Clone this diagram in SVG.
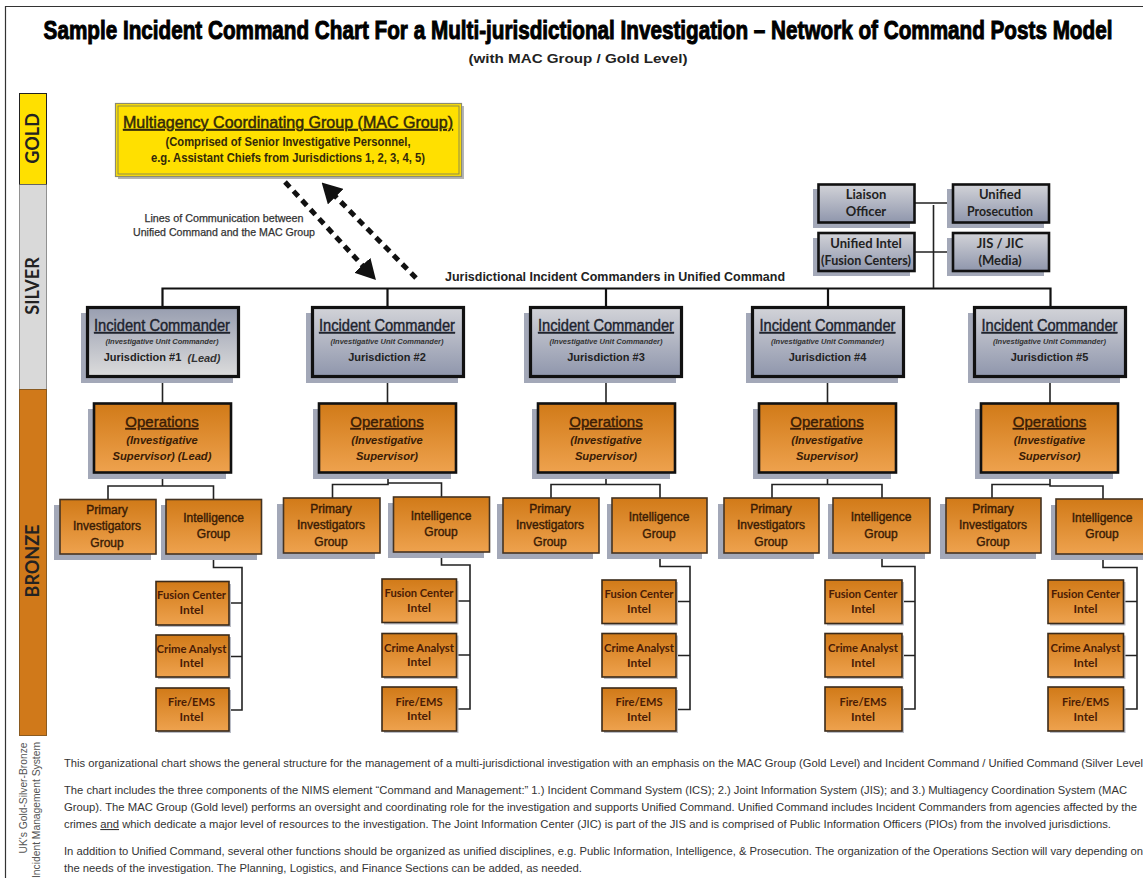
<svg xmlns="http://www.w3.org/2000/svg" width="1143" height="878" viewBox="0 0 1143 878">
<style>
text{font-family:"Liberation Sans",Arial,sans-serif;text-anchor:middle}
.cal{font-family:Lato,"Open Sans",sans-serif;font-weight:700}
.line{fill:none;stroke:#222;stroke-width:1.6}
.top{fill:none;stroke:#111;stroke-width:2.2}
.sh{fill:#a3a8b8}
.ic{fill:url(#gIC);stroke:#111;stroke-width:3.2}
.ic1{fill:url(#gIC1);stroke:#111;stroke-width:3.2}
.sm{fill:url(#gIC);stroke:#111;stroke-width:2.6}
.ops{fill:url(#gOr);stroke:#111;stroke-width:2.6}
.grp{fill:url(#gOr);stroke:#443322;stroke-width:1.6}
.int{fill:url(#gOr);stroke:#3a2a1a;stroke-width:1.6}
.shs{fill:#b9bcc6}
.ict{font-size:16px;fill:#20232e;stroke:#20232e;stroke-width:.4;text-decoration:underline}
.ics{font-size:7.5px;font-style:italic;font-weight:700;fill:#333}
.icj{font-size:11px;font-weight:700;fill:#222}
.opt{font-size:15px;fill:#3a1c05;stroke:#3a1c05;stroke-width:.4;text-decoration:underline}
.ops2{font-size:11.2px;font-style:italic;font-weight:700;fill:#3a1c05}
.gt{font-size:12px;fill:#3a1c05;stroke:#3a1c05;stroke-width:.4}
.it{font-size:12px;fill:#4a1c05}
.st{font-size:13px;fill:#222}
.side{font-size:18px;fill:#222}
.p{font-size:11px;fill:#333;text-anchor:start}
.rot{font-size:11px;fill:#555}
.dash{fill:none;stroke:#111;stroke-width:5;stroke-dasharray:7 5.5}
</style>
<defs>
<linearGradient id="gIC" x1="0" y1="0" x2="0" y2="1"><stop offset="0" stop-color="#d2d3d8"/><stop offset="1" stop-color="#8f96ac"/></linearGradient>
<linearGradient id="gIC1" x1="0" y1="0" x2="0" y2="1"><stop offset="0" stop-color="#989eb0"/><stop offset="1" stop-color="#dcdcdc"/></linearGradient>
<linearGradient id="gOr" x1="0" y1="0" x2="0" y2="1"><stop offset="0" stop-color="#d17a18"/><stop offset="1" stop-color="#eea24e"/></linearGradient>
<marker id="head" viewBox="0 0 20 22" refX="1" refY="11" markerWidth="20" markerHeight="22" markerUnits="userSpaceOnUse" orient="auto"><path d="M0,0 L20,11 L0,22 Z" fill="#111"/></marker>
</defs>
<rect width="1143" height="878" fill="#fff"/>
<path d="M5.5,878 V6.5 H1143" fill="none" stroke="#333" stroke-width="1.2"/>

<g id="title">
<text transform="translate(578,39) scale(.796,1)" font-size="26" font-weight="700" fill="#000" stroke="#000" stroke-width="1">Sample Incident Command Chart For a Multi-jurisdictional Investigation – Network of Command Posts Model</text>
<text x="578" y="63" font-size="13" font-weight="700" fill="#222" textLength="219" lengthAdjust="spacingAndGlyphs">(with MAC Group / Gold Level)</text>
</g>

<g id="level-bar">
<rect x="19.5" y="93.5" width="27" height="91" fill="#ffe000" stroke="#222" stroke-width="1"/>
<rect x="19.5" y="184.5" width="27" height="205" fill="#d9d9d9" stroke="#555" stroke-width=".6"/>
<rect x="19.5" y="389.5" width="27" height="346" fill="#d0791a" stroke="#8a5a20" stroke-width="1"/>
<text class="cal side" transform="translate(38.5,138.5) rotate(-90)">GOLD</text>
<text class="cal side" transform="translate(38.5,286) rotate(-90)">SILVER</text>
<text class="cal side" transform="translate(38.5,561) rotate(-90)">BRONZE</text>
<text class="rot" transform="translate(27,798) rotate(-90)" textLength="111" lengthAdjust="spacingAndGlyphs">UK's Gold-Silver-Bronze</text>
<text class="rot" transform="translate(40,810) rotate(-90)" textLength="136" lengthAdjust="spacingAndGlyphs">Incident Management  System</text>
</g>

<g id="connectors">
<path class="dash" d="M285,182 L363,266" marker-end="url(#head)"/>
<path class="dash" d="M416,278 L335,196" marker-end="url(#head)"/>
<path class="top" d="M162.5,307 V288.5 H1050.5 V307 M387.5,288.5 V307 M606,288.5 V307 M828,288.5 V307"/>
<path class="line" d="M915,203 H953 M915,252 H953 M933.5,205 V288"/>
<path class="line" d="M162.5,376 V403 M387.5,376 V403 M606,376 V403 M827.5,376 V403 M1050,376 V403"/>
<path class="line" d="M162.5,473 V486 M108,499 V486 H213.5 V499 M213.5,554 V567.5 H242 V710 H229 M229,603 H242 M229,656.5 H242"/>
<path class="line" d="M388,473 V484 M332.5,498 V484.5 H388 V483 H441.5 V497 M441.5,552 V565 H470 V709 H456.5 M456.5,601 H470 M456.5,655 H470"/>
<path class="line" d="M606,473 V484.5 M551,498 V484.5 H660 V498 M660,553 V566.5 H690 V709.5 H676 M676,601.5 H690 M676,655.5 H690"/>
<path class="line" d="M827.5,473 V484.5 M772,498 V484.5 H882 V498 M882,553 V566.5 H915 V709 H902 M902,601.5 H915 M902,655.5 H915"/>
<path class="line" d="M1050,473 V485 M992,498 V484.5 H1050 V486 H1103 V499 M1103,554 V567.5 H1137 V709 H1123.5 M1123.5,601.5 H1137 M1123.5,655.5 H1137"/>
</g>

<g id="annotations">
<text x="224" y="222" font-size="10.5" fill="#333" stroke="#333" stroke-width=".25" textLength="159" lengthAdjust="spacingAndGlyphs">Lines of Communication between</text>
<text x="224" y="236" font-size="10.5" fill="#333" stroke="#333" stroke-width=".25" textLength="182" lengthAdjust="spacingAndGlyphs">Unified Command and the MAC Group</text>
<text x="615" y="281" font-size="12" font-weight="700" fill="#222" textLength="340" lengthAdjust="spacingAndGlyphs">Jurisdictional Incident Commanders in Unified Command</text>
</g>

<g id="mac-group">
<rect x="118" y="106" width="346" height="73" fill="#b4b4b4"/>
<rect x="115.5" y="103.5" width="346" height="73" fill="#ffe000" stroke="#8c8c70" stroke-width="1.2"/>
<rect x="118" y="106" width="341" height="68" fill="#ffe000" stroke="#8c8c50" stroke-width="1"/>
<text x="288" y="128" font-size="17" fill="#33290a" stroke="#33290a" stroke-width=".5" text-decoration="underline" textLength="330" lengthAdjust="spacingAndGlyphs">Multiagency Coordinating Group (MAC Group)</text>
<text x="288" y="146" font-size="12" font-weight="700" fill="#33290a" textLength="245" lengthAdjust="spacingAndGlyphs">(Comprised of Senior Investigative Personnel,</text>
<text x="288" y="162" font-size="12" font-weight="700" fill="#33290a" textLength="274" lengthAdjust="spacingAndGlyphs">e.g. Assistant Chiefs from Jurisdictions 1, 2, 3, 4, 5)</text>
</g>

<g id="liaison"><rect class="sh" x="813" y="189" width="97" height="39"/><rect class="sm" x="818.5" y="184.5" width="96" height="38"/><text class="cal st" x="866" y="199">Liaison</text><text class="cal st" x="866" y="216">Officer</text></g>
<g id="prosecution"><rect class="sh" x="947" y="189" width="97" height="39"/><rect class="sm" x="953" y="184.5" width="96" height="38"/><text class="cal st" x="1000" y="199">Unified</text><text class="cal st" x="1000" y="216" textLength="66" lengthAdjust="spacingAndGlyphs">Prosecution</text></g>
<g id="unified-intel"><rect class="sh" x="813" y="238" width="97" height="38"/><rect class="sm" x="818.5" y="233" width="96" height="38"/><text class="cal st" x="866" y="248">Unified Intel</text><text class="cal st" x="866" y="265" textLength="90" lengthAdjust="spacingAndGlyphs">(Fusion Centers)</text></g>
<g id="jis"><rect class="sh" x="947" y="238" width="97" height="38"/><rect class="sm" x="953" y="233" width="96" height="38"/><text class="cal st" x="1000" y="248">JIS / JIC</text><text class="cal st" x="1000" y="265">(Media)</text></g>

<g id="ic1"><rect class="sh" x="81" y="313" width="152" height="70"/><rect class="ic1" x="87.5" y="307.5" width="151" height="69"/><text class="ict" x="162" y="331" textLength="136" lengthAdjust="spacingAndGlyphs">Incident Commander</text><text class="ics" x="162" y="344">(Investigative Unit Commander)</text><text class="icj" x="142.5" y="361">Jurisdiction #1</text><text class="ics" x="204" y="362" style="font-size:11px">(Lead)</text></g>
<g id="ic2"><rect class="sh" x="306" y="313" width="152" height="70"/><rect class="ic" x="312.5" y="307.5" width="151" height="69"/><text class="ict" x="387" y="331" textLength="136" lengthAdjust="spacingAndGlyphs">Incident Commander</text><text class="ics" x="387" y="344">(Investigative Unit Commander)</text><text class="icj" x="387" y="361">Jurisdiction #2</text></g>
<g id="ic3"><rect class="sh" x="524" y="313" width="152" height="70"/><rect class="ic" x="530.5" y="307.5" width="151" height="69"/><text class="ict" x="606" y="331" textLength="136" lengthAdjust="spacingAndGlyphs">Incident Commander</text><text class="ics" x="606" y="344">(Investigative Unit Commander)</text><text class="icj" x="606" y="361">Jurisdiction #3</text></g>
<g id="ic4"><rect class="sh" x="746" y="313" width="152" height="70"/><rect class="ic" x="752.5" y="307.5" width="151" height="69"/><text class="ict" x="827.5" y="331" textLength="136" lengthAdjust="spacingAndGlyphs">Incident Commander</text><text class="ics" x="827.5" y="344">(Investigative Unit Commander)</text><text class="icj" x="827.5" y="361">Jurisdiction #4</text></g>
<g id="ic5"><rect class="sh" x="968" y="313" width="152" height="70"/><rect class="ic" x="974.5" y="307.5" width="151" height="69"/><text class="ict" x="1049.5" y="331" textLength="136" lengthAdjust="spacingAndGlyphs">Incident Commander</text><text class="ics" x="1049.5" y="344">(Investigative Unit Commander)</text><text class="icj" x="1049.5" y="361">Jurisdiction #5</text></g>

<g id="ops1"><rect class="sh" x="88" y="409" width="138" height="70"/><rect class="ops" x="94" y="403.5" width="137" height="69"/><text class="opt" x="162" y="427">Operations</text><text class="ops2" x="162" y="444">(Investigative</text><text class="ops2" x="162" y="460">Supervisor) (Lead)</text></g>
<g id="ops2"><rect class="sh" x="313" y="409" width="138" height="70"/><rect class="ops" x="319" y="403.5" width="137" height="69"/><text class="opt" x="387" y="427">Operations</text><text class="ops2" x="387" y="444">(Investigative</text><text class="ops2" x="387" y="460">Supervisor)</text></g>
<g id="ops3"><rect class="sh" x="532" y="409" width="138" height="70"/><rect class="ops" x="538" y="403.5" width="137" height="69"/><text class="opt" x="606" y="427">Operations</text><text class="ops2" x="606" y="444">(Investigative</text><text class="ops2" x="606" y="460">Supervisor)</text></g>
<g id="ops4"><rect class="sh" x="753" y="409" width="138" height="70"/><rect class="ops" x="759" y="403.5" width="137" height="69"/><text class="opt" x="827" y="427">Operations</text><text class="ops2" x="827" y="444">(Investigative</text><text class="ops2" x="827" y="460">Supervisor)</text></g>
<g id="ops5"><rect class="sh" x="975" y="409" width="138" height="70"/><rect class="ops" x="981" y="403.5" width="137" height="69"/><text class="opt" x="1049.5" y="427">Operations</text><text class="ops2" x="1049.5" y="444">(Investigative</text><text class="ops2" x="1049.5" y="460">Supervisor)</text></g>

<g id="pi1"><rect class="sh" x="54" y="505" width="97" height="55"/><rect class="grp" x="60" y="499.5" width="96" height="54.5"/><text class="gt" x="107" y="514">Primary</text><text class="gt" x="107" y="530">Investigators</text><text class="gt" x="107" y="547">Group</text></g>
<g id="ig1"><rect class="sh" x="161" y="505" width="96" height="55"/><rect class="grp" x="166" y="499.5" width="95.5" height="54.5"/><text class="gt" x="213.5" y="522">Intelligence</text><text class="gt" x="213.5" y="538">Group</text></g>
<g id="pi2"><rect class="sh" x="277" y="504" width="98" height="55"/><rect class="grp" x="283.5" y="498" width="96.5" height="55"/><text class="gt" x="331" y="513">Primary</text><text class="gt" x="331" y="529">Investigators</text><text class="gt" x="331" y="546">Group</text></g>
<g id="ig2"><rect class="sh" x="388" y="503" width="96" height="55"/><rect class="grp" x="393.5" y="497" width="96" height="55"/><text class="gt" x="441" y="520">Intelligence</text><text class="gt" x="441" y="536">Group</text></g>
<g id="pi3"><rect class="sh" x="497" y="504" width="96" height="55"/><rect class="grp" x="503" y="498" width="96" height="55"/><text class="gt" x="550" y="513">Primary</text><text class="gt" x="550" y="529">Investigators</text><text class="gt" x="550" y="546">Group</text></g>
<g id="ig3"><rect class="sh" x="607" y="504" width="95" height="55"/><rect class="grp" x="612" y="498" width="95" height="55"/><text class="gt" x="659" y="521">Intelligence</text><text class="gt" x="659" y="538">Group</text></g>
<g id="pi4"><rect class="sh" x="718" y="504" width="96" height="55"/><rect class="grp" x="724" y="498" width="95" height="55"/><text class="gt" x="771" y="513">Primary</text><text class="gt" x="771" y="529">Investigators</text><text class="gt" x="771" y="546">Group</text></g>
<g id="ig4"><rect class="sh" x="828" y="504" width="97" height="55"/><rect class="grp" x="833" y="498" width="97" height="55"/><text class="gt" x="881" y="521">Intelligence</text><text class="gt" x="881" y="538">Group</text></g>
<g id="pi5"><rect class="sh" x="940" y="504" width="96" height="55"/><rect class="grp" x="946" y="498" width="95" height="55"/><text class="gt" x="993" y="513">Primary</text><text class="gt" x="993" y="529">Investigators</text><text class="gt" x="993" y="546">Group</text></g>
<g id="ig5"><rect class="sh" x="1051" y="505" width="92" height="55"/><rect class="grp" x="1056" y="499" width="96" height="55"/><text class="gt" x="1102" y="522">Intelligence</text><text class="gt" x="1102" y="538">Group</text></g>

<g id="fc1"><rect class="shs" x="158" y="584" width="73" height="43"/><rect class="int" x="156" y="581.5" width="73" height="43.5"/><text class="cal it" x="191.5" y="599" textLength="69" lengthAdjust="spacingAndGlyphs">Fusion Center</text><text class="cal it" x="191.5" y="614">Intel</text></g>
<g id="ca1"><rect class="shs" x="158" y="637" width="73" height="42"/><rect class="int" x="156" y="635" width="73" height="42"/><text class="cal it" x="191.5" y="653" textLength="70" lengthAdjust="spacingAndGlyphs">Crime Analyst</text><text class="cal it" x="191.5" y="667">Intel</text></g>
<g id="fe1"><rect class="shs" x="158" y="690" width="73" height="43"/><rect class="int" x="156" y="688" width="73" height="43"/><text class="cal it" x="191.5" y="706" textLength="47" lengthAdjust="spacingAndGlyphs">Fire/EMS</text><text class="cal it" x="191.5" y="721">Intel</text></g>

<g id="fc2"><rect class="shs" x="384" y="581" width="74.5" height="43.5"/><rect class="int" x="382" y="579" width="74.5" height="43.5"/><text class="cal it" x="419" y="597" textLength="69" lengthAdjust="spacingAndGlyphs">Fusion Center</text><text class="cal it" x="419" y="612">Intel</text></g>
<g id="ca2"><rect class="shs" x="384" y="635.5" width="74.5" height="43.5"/><rect class="int" x="382" y="633.5" width="74.5" height="43.5"/><text class="cal it" x="419" y="652" textLength="70" lengthAdjust="spacingAndGlyphs">Crime Analyst</text><text class="cal it" x="419" y="666">Intel</text></g>
<g id="fe2"><rect class="shs" x="384" y="689" width="74.5" height="44"/><rect class="int" x="382" y="687" width="74.5" height="44"/><text class="cal it" x="419" y="706" textLength="47" lengthAdjust="spacingAndGlyphs">Fire/EMS</text><text class="cal it" x="419" y="720">Intel</text></g>

<g id="fc3"><rect class="shs" x="604" y="582" width="74" height="43.5"/><rect class="int" x="602" y="580" width="74" height="43.5"/><text class="cal it" x="639" y="598" textLength="69" lengthAdjust="spacingAndGlyphs">Fusion Center</text><text class="cal it" x="639" y="613">Intel</text></g>
<g id="ca3"><rect class="shs" x="604" y="635.5" width="74" height="43.5"/><rect class="int" x="602" y="633.5" width="74" height="43.5"/><text class="cal it" x="639" y="652" textLength="70" lengthAdjust="spacingAndGlyphs">Crime Analyst</text><text class="cal it" x="639" y="667">Intel</text></g>
<g id="fe3"><rect class="shs" x="604" y="690" width="74" height="43"/><rect class="int" x="602" y="688" width="74" height="43"/><text class="cal it" x="639" y="706" textLength="47" lengthAdjust="spacingAndGlyphs">Fire/EMS</text><text class="cal it" x="639" y="721">Intel</text></g>

<g id="fc4"><rect class="shs" x="827" y="582" width="77" height="43.5"/><rect class="int" x="825" y="580" width="77" height="43.5"/><text class="cal it" x="863" y="598" textLength="69" lengthAdjust="spacingAndGlyphs">Fusion Center</text><text class="cal it" x="863" y="613">Intel</text></g>
<g id="ca4"><rect class="shs" x="827" y="635.5" width="77" height="43.5"/><rect class="int" x="825" y="633.5" width="77" height="43.5"/><text class="cal it" x="863" y="652" textLength="70" lengthAdjust="spacingAndGlyphs">Crime Analyst</text><text class="cal it" x="863" y="667">Intel</text></g>
<g id="fe4"><rect class="shs" x="827" y="689" width="77" height="44"/><rect class="int" x="825" y="687" width="77" height="44"/><text class="cal it" x="863" y="706" textLength="47" lengthAdjust="spacingAndGlyphs">Fire/EMS</text><text class="cal it" x="863" y="721">Intel</text></g>

<g id="fc5"><rect class="shs" x="1050" y="582" width="75.5" height="43.5"/><rect class="int" x="1048" y="580" width="75.5" height="43.5"/><text class="cal it" x="1085.5" y="598" textLength="69" lengthAdjust="spacingAndGlyphs">Fusion Center</text><text class="cal it" x="1085.5" y="613">Intel</text></g>
<g id="ca5"><rect class="shs" x="1050" y="635.5" width="75.5" height="43.5"/><rect class="int" x="1048" y="633.5" width="75.5" height="43.5"/><text class="cal it" x="1085.5" y="652" textLength="70" lengthAdjust="spacingAndGlyphs">Crime Analyst</text><text class="cal it" x="1085.5" y="667">Intel</text></g>
<g id="fe5"><rect class="shs" x="1050" y="689" width="75.5" height="44"/><rect class="int" x="1048" y="687" width="75.5" height="44"/><text class="cal it" x="1085.5" y="706" textLength="47" lengthAdjust="spacingAndGlyphs">Fire/EMS</text><text class="cal it" x="1085.5" y="721">Intel</text></g>

<g id="notes">
<text class="p" x="64" y="767" textLength="1079" lengthAdjust="spacingAndGlyphs">This organizational chart shows the general structure for the management of a multi-jurisdictional investigation with an emphasis on the MAC Group (Gold Level) and Incident Command / Unified Command (Silver Level</text>
<text class="p" x="64" y="794" textLength="1063" lengthAdjust="spacingAndGlyphs">The chart includes the three components of the NIMS element “Command and Management:”  1.) Incident Command System (ICS); 2.) Joint Information System (JIS); and 3.) Multiagency Coordination System (MAC</text>
<text class="p" x="64" y="811" textLength="1073" lengthAdjust="spacingAndGlyphs">Group).  The MAC Group (Gold level) performs an oversight and coordinating role for the investigation and supports Unified Command.  Unified Command includes Incident Commanders from agencies affected by the</text>
<text class="p" x="64" y="828" textLength="1047" lengthAdjust="spacingAndGlyphs">crimes <tspan text-decoration="underline">and</tspan> which dedicate a major level of resources to the investigation.  The Joint Information Center (JIC) is part of the JIS and is comprised of Public Information Officers (PIOs) from the involved jurisdictions.</text>
<text class="p" x="64" y="855" textLength="1079" lengthAdjust="spacingAndGlyphs">In addition to Unified Command, several other functions should be organized as unified disciplines, e.g. Public Information, Intelligence, &amp; Prosecution.  The organization of the Operations Section will vary depending on</text>
<text class="p" x="64" y="872" textLength="518" lengthAdjust="spacingAndGlyphs">the needs of the investigation.  The Planning, Logistics, and Finance Sections can be added, as needed.</text>
</g>
</svg>
